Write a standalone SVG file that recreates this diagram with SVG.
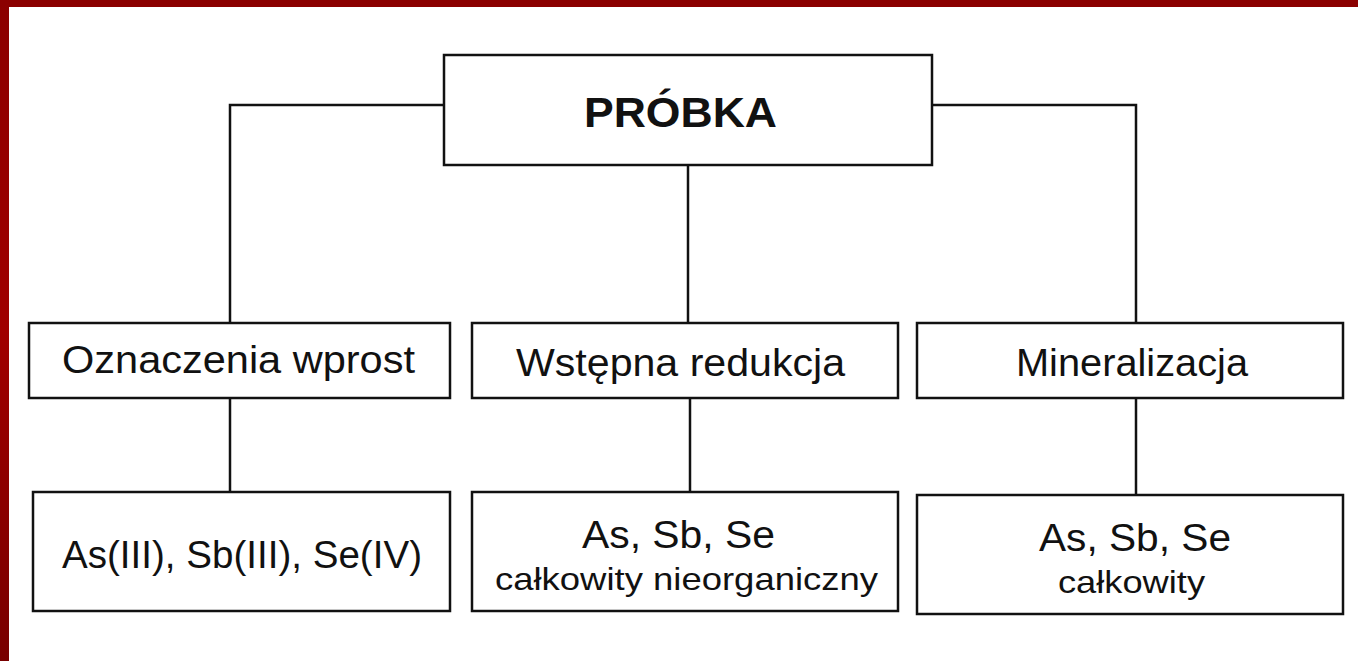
<svg xmlns="http://www.w3.org/2000/svg" width="1358" height="661" viewBox="0 0 1358 661">
<defs>
<linearGradient id="lg" x1="0" y1="0" x2="0" y2="1">
<stop offset="0" stop-color="#8b0000"/>
<stop offset="0.5" stop-color="#a00000"/>
<stop offset="1" stop-color="#780000"/>
</linearGradient>
<style>
.box{fill:#fff;stroke:#111;stroke-width:2.5}
.ln{fill:none;stroke:#111;stroke-width:2.5}
.t{font-family:"Liberation Sans",Arial,sans-serif;fill:#111;text-anchor:start}
.b{font-weight:bold}
</style>
</defs>
<rect x="0" y="0" width="1358" height="661" fill="#fff"/>
<rect x="0" y="0" width="1358" height="7" fill="#8b0000"/>
<rect x="0" y="0" width="9" height="661" fill="url(#lg)"/>
<g id="connectors">
<polyline class="ln" points="444,105 230,105 230,323"/>
<polyline class="ln" points="932,105 1136,105 1136,323"/>
<line class="ln" x1="688" y1="165" x2="688" y2="323"/>
<line class="ln" x1="230" y1="398" x2="230" y2="492"/>
<line class="ln" x1="690" y1="398" x2="690" y2="492"/>
<line class="ln" x1="1136" y1="398" x2="1136" y2="495"/>
</g>
<g id="probka">
<rect class="box" x="444" y="55" width="488" height="110"/>
<text class="t b" x="584" y="127" font-size="43" textLength="193" lengthAdjust="spacingAndGlyphs">PRÓBKA</text>
</g>
<g id="oznaczenia">
<rect class="box" x="29" y="323" width="421" height="75"/>
<text class="t" x="62" y="373" font-size="38" textLength="353" lengthAdjust="spacingAndGlyphs">Oznaczenia wprost</text>
</g>
<g id="wstepna">
<rect class="box" x="472" y="323" width="426" height="75"/>
<text class="t" x="516" y="376" font-size="38" textLength="329" lengthAdjust="spacingAndGlyphs">Wstępna redukcja</text>
</g>
<g id="mineralizacja">
<rect class="box" x="917" y="323" width="426" height="75"/>
<text class="t" x="1016" y="376" font-size="38" textLength="232" lengthAdjust="spacingAndGlyphs">Mineralizacja</text>
</g>
<g id="wynik1">
<rect class="box" x="33" y="492" width="417" height="119"/>
<text class="t" x="62" y="568" font-size="38" textLength="360" lengthAdjust="spacingAndGlyphs">As(III), Sb(III), Se(IV)</text>
</g>
<g id="wynik2">
<rect class="box" x="472" y="492" width="426" height="119"/>
<text class="t" x="582" y="548" font-size="38" textLength="193" lengthAdjust="spacingAndGlyphs">As, Sb, Se</text>
<text class="t" x="495" y="590" font-size="32" textLength="383" lengthAdjust="spacingAndGlyphs">całkowity nieorganiczny</text>
</g>
<g id="wynik3">
<rect class="box" x="917" y="495" width="426" height="119"/>
<text class="t" x="1039" y="551" font-size="38" textLength="192" lengthAdjust="spacingAndGlyphs">As, Sb, Se</text>
<text class="t" x="1058" y="593" font-size="32" textLength="147" lengthAdjust="spacingAndGlyphs">całkowity</text>
</g>
</svg>
